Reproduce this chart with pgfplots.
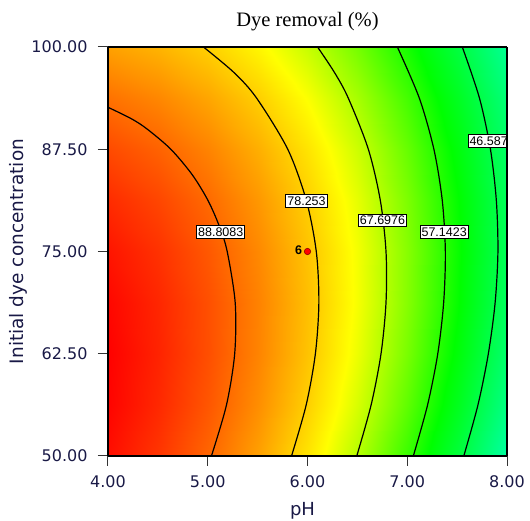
\documentclass[border=0pt]{standalone}
\usepackage{fontspec}
\setmainfont{DejaVu Sans}
\newfontfamily\titlefont{Liberation Serif}
\newfontfamily\lblfont{Liberation Sans}
\usepackage{pgfplots}
\pgfplotsset{compat=1.18}
\definecolor{axtext}{RGB}{25,25,70}

% response colour scale: cyan -> green -> yellow -> red
\pgfplotsset{colormap={dyemap}{rgb255(27)=(0,255,255) rgb255(54)=(0,255,0) rgb255(73)=(255,255,0) rgb255(100)=(255,0,0)}}

\tikzset{lbl/.style={fill=white, draw=black, line width=0.8pt, inner xsep=1.5pt, inner ysep=2pt,
  font=\lblfont\fontsize{12.5}{13}\selectfont}}

\begin{document}
\begin{tikzpicture}
\begin{axis}[
  at={(0,0)}, anchor=south west,
  view={0}{90},
  width=399pt, height=409pt, scale only axis,
  xmin=4, xmax=8, ymin=50, ymax=100,
  xtick={4,5,6,7,8}, xticklabels={4.00,5.00,6.00,7.00,8.00},
  ytick={50,62.5,75,87.5,100}, yticklabels={50.00,62.50,75.00,87.50,100.00},
  tick align=outside, major tick length=10pt,
  xtick pos=left, ytick pos=left,
  tick style={line width=1pt, black!80},
  axis line style={line width=1.1pt},
  axis on top,
  ticklabel style={font=\fontsize{16}{16}\selectfont, text=axtext},
  yticklabel style={xshift=-7pt},
  xticklabel style={yshift=-6pt},
  xlabel={pH}, ylabel={Initial dye concentration},
  xlabel style={font=\fontsize{18}{18}\selectfont, text=axtext, at={(axis description cs:0.5,0)}, anchor=base, yshift=-60pt, xshift=-5pt},
  ylabel style={font=\fontsize{18.5}{18.5}\selectfont, text=axtext, at={(axis description cs:-0.2256,0.5)}, anchor=center, rotate=0},
  title={Dye removal (\%)},
  title style={font=\titlefont\fontsize{20.5}{20.5}\selectfont, at={(axis description cs:0.5,1)}, anchor=base, yshift=14pt},
  colormap name=dyemap,
  point meta min=27, point meta max=100,
]
% response surface, dye removal (%) over pH x initial concentration
\addplot3[surf, shader=interp, mesh/rows=9, mesh/cols=9, mesh/ordering=x varies] table {
x y z
4.0 50 98.53
4.5 50 94.39
5.0 50 89.23
5.5 50 83.04
6.0 50 75.83
6.5 50 67.59
7.0 50 58.33
7.5 50 48.04
8.0 50 36.73
4.0 56.25 99.68
4.5 56.25 95.82
5.0 56.25 90.92
5.5 56.25 85.00
6.0 56.25 78.06
6.5 56.25 70.09
7.0 56.25 61.10
7.5 56.25 51.08
8.0 56.25 40.03
4.0 62.5 99.95
4.5 62.5 96.35
5.0 62.5 91.73
5.5 62.5 86.08
6.0 62.5 79.40
6.5 62.5 71.70
7.0 62.5 62.98
7.5 62.5 53.23
8.0 62.5 42.45
4.0 68.75 99.33
4.5 68.75 96.00
5.0 68.75 91.65
5.5 68.75 86.27
6.0 68.75 79.86
6.5 68.75 72.43
7.0 68.75 63.97
7.5 68.75 54.49
8.0 68.75 43.98
4.0 75 97.83
4.5 75 94.77
5.0 75 90.68
5.5 75 85.57
6.0 75 79.43
6.5 75 72.27
7.0 75 64.08
7.5 75 54.87
8.0 75 44.63
4.0 81.25 95.44
4.5 81.25 92.65
5.0 81.25 88.83
5.5 81.25 83.98
6.0 81.25 78.11
6.5 81.25 71.22
7.0 81.25 63.30
7.5 81.25 54.36
8.0 81.25 44.39
4.0 87.5 92.16
4.5 87.5 89.64
5.0 87.5 86.09
5.5 87.5 81.51
6.0 87.5 75.91
6.5 87.5 69.29
7.0 87.5 61.64
7.5 87.5 52.96
8.0 87.5 43.26
4.0 93.75 88.00
4.5 93.75 85.74
5.0 93.75 82.46
5.5 93.75 78.16
6.0 93.75 72.82
6.5 93.75 66.47
7.0 93.75 59.09
7.5 93.75 50.68
8.0 93.75 41.25
4.0 100 82.95
4.5 100 80.96
5.0 100 77.95
5.5 100 73.91
6.0 100 68.85
6.5 100 62.76
7.0 100 55.65
7.5 100 47.51
8.0 100 38.35
};
% contour lines
\addplot3[black, line width=1.2pt, smooth, tension=0.5] coordinates {
(5.037,50,100) (5.188,56.25,100) (5.270,62.5,100) (5.275,68.75,100) (5.195,75,100)
(5.115,78.125,100) (5.002,81.25,100) (4.845,84.375,100) (4.630,87.5,100) (4.389,90,100)
(4.231,91.25,100) (4.0,92.63,100)};
\addplot3[black, line width=1.2pt, smooth, tension=0.5] coordinates {
(5.840,50,100) (5.987,56.25,100) (6.079,62.5,100) (6.114,68.75,100) (6.088,75,100)
(5.988,81.25,100) (5.802,87.5,100) (5.490,93.75,100) (5.263,96.875,100) (4.957,100,100)};
\addplot3[black, line width=1.2pt, smooth, tension=0.5] coordinates {
(6.494,50,100) (6.638,56.25,100) (6.737,62.5,100) (6.787,68.75,100) (6.787,75,100)
(6.730,81.25,100) (6.610,87.5,100) (6.409,93.75,100) (6.271,96.875,100) (6.101,100,100)};
\addplot3[black, line width=1.2pt, smooth, tension=0.5] coordinates {
(7.061,50,100) (7.204,56.25,100) (7.306,62.5,100) (7.365,68.75,100) (7.382,75,100)
(7.351,81.25,100) (7.267,87.5,100) (7.121,93.75,100) (6.901,100,100)};
\addplot3[black, line width=1.2pt, smooth, tension=0.5] coordinates {
(7.567,50,100) (7.709,56.25,100) (7.813,62.5,100) (7.881,68.75,100) (7.909,75,100)
(7.893,81.25,100) (7.834,87.5,100) (7.724,93.75,100) (7.552,100,100)};
% contour labels
\node[lbl] at (axis cs:5.13,77.4,100) {88.8083};
\node[lbl] at (axis cs:5.99,81.2,100) {78.253};
\node[lbl] at (axis cs:6.752,78.8,100) {67.6976};
\node[lbl] at (axis cs:7.37,77.4,100) {57.1423};
\node[lbl] at (axis cs:7.816,88.5,100) {46.587};
% centre point (6 replicates)
\addplot3[only marks, mark=*, mark size=3.2pt, mark options={fill=red, draw=red!55!black, line width=0.6pt}] coordinates {(6,75,100)};
\node[font=\lblfont\bfseries\fontsize{12.5}{12}\selectfont, inner sep=0pt] at (axis cs:5.91,75.2,100) {6};
\end{axis}
\pgfresetboundingbox
\path[use as bounding box] (-108pt,-65pt) rectangle (422pt,456pt);
\end{tikzpicture}
\end{document}
